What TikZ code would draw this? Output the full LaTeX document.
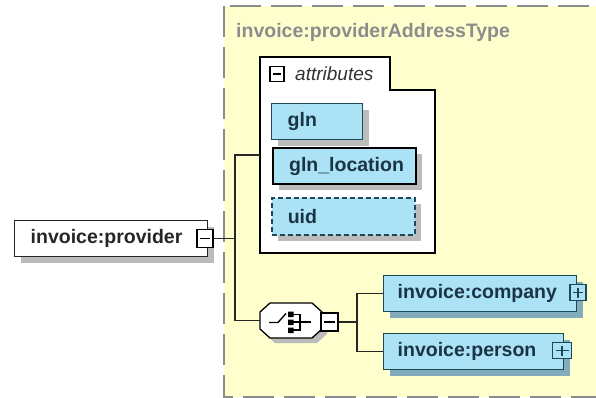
\documentclass[tikz,border=0pt]{standalone}
\usepackage{fontspec}
\setmainfont{Liberation Sans}
\usetikzlibrary{shadows}
\definecolor{xsdCyan}{RGB}{172,226,245}
\definecolor{xsdTeal}{RGB}{28,72,88}
\definecolor{xsdText}{RGB}{26,52,70}
\definecolor{typeYellow}{RGB}{255,255,206}
\definecolor{typeGrey}{RGB}{140,140,140}
\definecolor{shadeGrey}{RGB}{188,188,188}
\definecolor{shadeBlue}{RGB}{130,172,190}

\begin{document}
\begin{tikzpicture}[
    x=1pt, y=-1pt,
    elemBox/.style={
        rectangle,
        anchor=north west,
        draw=xsdTeal,
        fill=xsdCyan,
        line width=1.4pt,
        minimum height=36pt,
        inner xsep=16pt,
        inner ysep=0pt,
        align=left,
        font=\fontsize{19.5}{22}\selectfont\bfseries,
        text=xsdText,
        drop shadow={shadow xshift=6pt, shadow yshift=-6pt, fill=shadeBlue, opacity=1}
    },
    attrBox/.style={elemBox,
        drop shadow={shadow xshift=6pt, shadow yshift=-6pt, fill=shadeGrey, opacity=1}},
    optBox/.style={attrBox, line width=1.6pt, dash pattern=on 5pt off 3pt},
    pickBox/.style={attrBox, draw=black, line width=2.2pt},
    rootBox/.style={elemBox, draw=black!85, fill=white, text=black!85,
        drop shadow={shadow xshift=6pt, shadow yshift=-6pt, fill=shadeGrey, opacity=1}},
    toggleBtn/.style={
        rectangle,
        draw=black,
        fill=white,
        line width=1.3pt,
        minimum width=16pt,
        minimum height=18pt,
        inner sep=0pt
    },
    minusBtn/.style={toggleBtn,
        path picture={\draw[line width=1.4pt]
            ([xshift=3pt]path picture bounding box.west) -- ([xshift=-3pt]path picture bounding box.east);}},
    plusBtn/.style={toggleBtn, draw=xsdTeal, fill=xsdCyan, minimum height=16pt,
        path picture={\draw[line width=1.4pt, xsdTeal]
            ([xshift=3pt]path picture bounding box.west) -- ([xshift=-3pt]path picture bounding box.east)
            ([yshift=-3pt]path picture bounding box.north) -- ([yshift=3pt]path picture bounding box.south);}},
    wire/.style={line width=1.3pt, draw=black!85}
]
    \useasboundingbox (0,0) rectangle (596,398);
    \fill[white] (0,0) rectangle (596,398);

    % complex type frame
    \draw[fill=typeYellow, draw=typeGrey, line width=2pt, dash pattern=on 31pt off 10pt]
        (224,6) rectangle (610,397);
    \node[anchor=west, inner sep=0pt, text=typeGrey, font=\fontsize{19.5}{22}\selectfont\bfseries]
        (typeName) at (236,32) {invoice:providerAddressType};

    % attribute group
    \draw[fill=white, draw=black, line width=1.3pt]
        (260,57) -- (390,57) -- (390,90) -- (435,90) -- (435,253) -- (260,253) -- cycle;
    \coordinate (attrsIn) at (260,155);
    \node[minusBtn, minimum width=14pt, minimum height=15pt] (attrsBtn) at (277,74) {};
    \node[anchor=west, inner sep=0pt, text=black!80, font=\fontsize{19}{22}\selectfont\itshape]
        (attrsLabel) at (295,74) {attributes};

    \node[attrBox, text width=59pt] (gln) at (271,103) {gln};
    \node[pickBox, text width=111pt] (glnLoc) at (272,147) {gln\_location};
    \node[optBox, text width=111pt, minimum height=37pt] (uid) at (271,197) {uid};

    % root element
    \node[rootBox, text width=161pt] (provider) at (14,220) {invoice:provider};
    \node[minusBtn] (providerBtn) at (205,238.5) {};

    % choice compositor
    \path[draw=black, fill=white, line width=1.3pt,
        drop shadow={shadow xshift=5pt, shadow yshift=-5pt, fill=shadeGrey, opacity=1}]
        (260,312) -- (270,303) -- (312,303) -- (322,312) -- (322,329) -- (312,338) -- (270,338) -- (260,329) -- cycle;
    \node[minimum width=62pt, minimum height=35pt, inner sep=0pt] (choice) at (291,320.5) {};
    \begin{scope}[line width=1.4pt]
        \draw (269,322.5) -- (278,322.5) -- (286,313.5);
        \fill (288,311.5) rectangle (293.5,317) (288,319.5) rectangle (293.5,325) (288,327.5) rectangle (293.5,333);
        \draw (293,314.5) -- (300,314.5) -- (300,330) -- (293,330) (293,322) -- (311,322);
    \end{scope}
    \node[minusBtn, minimum width=17pt] (choiceBtn) at (329.5,322) {};

    \node[elemBox, text width=165pt, inner xsep=14pt] (company) at (383,275) {invoice:company};
    \node[plusBtn] (companyBtn) at (578,292.5) {};
    \node[elemBox, text width=152pt, inner xsep=14pt] (person) at (383,333) {invoice:person};
    \node[plusBtn, minimum width=19pt] (personBtn) at (562,350.5) {};

    % connectors
    \coordinate (forkA) at (235,238.5);
    \coordinate (forkB) at (357,322);
    \draw[wire] (providerBtn.east) -- (forkA);
    \draw[wire] (attrsIn) -| (forkA) |- (choice.west);
    \draw[wire] (choiceBtn.east) -- (forkB);
    \draw[wire] (company.west) -| (forkB) |- (person.west);
\end{tikzpicture}
\end{document}
